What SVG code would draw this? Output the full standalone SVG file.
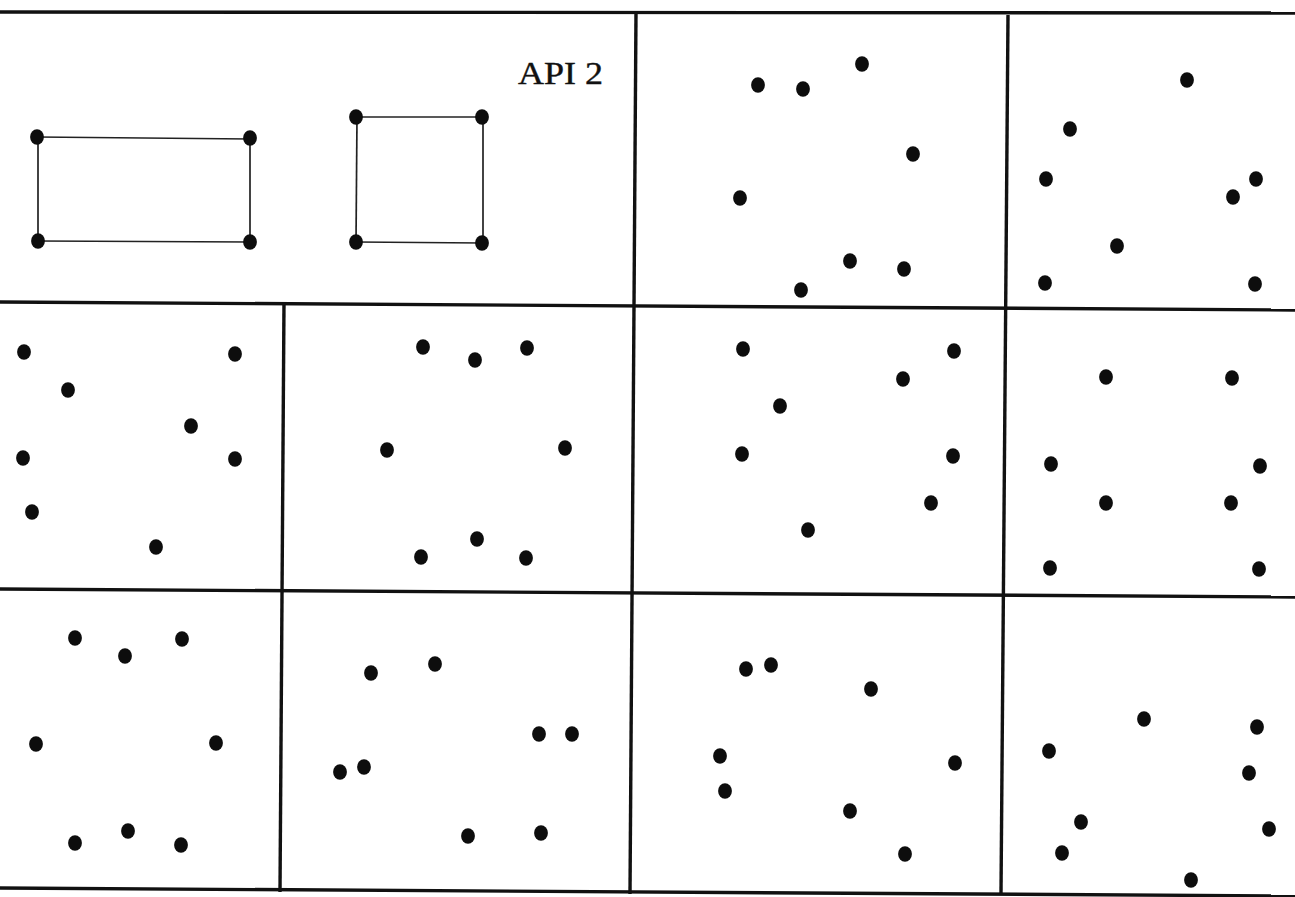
<svg xmlns="http://www.w3.org/2000/svg" width="1295" height="897" viewBox="0 0 1295 897">
<style>
.grid{stroke:#111;stroke-width:3.4;fill:none;stroke-linecap:butt}
.edge{stroke:#222;stroke-width:1.7;fill:none}
.dot{fill:#0d0d0d}
.lbl{font-family:"Liberation Serif","Times New Roman",serif;font-size:31px;fill:#111;stroke:#111;stroke-width:0.4}
</style>
<defs>
<ellipse id="d" cx="0" cy="0" rx="6.9" ry="7.7" class="dot"/>
</defs>
<rect width="1295" height="897" fill="#ffffff"/>
<g id="grid">
<line class="grid" x1="0" y1="12" x2="1295" y2="13"/>
<line class="grid" x1="0" y1="302" x2="1295" y2="310"/>
<line class="grid" x1="0" y1="589" x2="1295" y2="597"/>
<line class="grid" x1="0" y1="888" x2="1295" y2="896"/>
<line class="grid" x1="636" y1="12" x2="630" y2="894"/>
<line class="grid" x1="1008" y1="15" x2="1001" y2="894"/>
<line class="grid" x1="284" y1="302" x2="280" y2="892"/>
</g>
<g id="connectors">
<line class="edge" x1="37" y1="137" x2="250" y2="139"/>
<line class="edge" x1="38" y1="241" x2="250" y2="242"/>
<line class="edge" x1="38" y1="137" x2="38" y2="241"/>
<line class="edge" x1="250" y1="139" x2="250" y2="242"/>
<line class="edge" x1="356" y1="117" x2="482" y2="117"/>
<line class="edge" x1="356" y1="242" x2="482" y2="243"/>
<line class="edge" x1="357" y1="117" x2="356" y2="242"/>
<line class="edge" x1="483" y1="117" x2="483" y2="243"/>
</g>
<g id="panel-1">
<text class="lbl" x="518" y="84" textLength="85" lengthAdjust="spacingAndGlyphs">API 2</text>
<g id="rect-a">
<use href="#d" x="37" y="137"/><use href="#d" x="250" y="138"/><use href="#d" x="38" y="241"/><use href="#d" x="250" y="242"/>
</g>
<g id="rect-b">
<use href="#d" x="356" y="117"/><use href="#d" x="482" y="117"/><use href="#d" x="356" y="242"/><use href="#d" x="482" y="243"/>
</g>
</g>
<g id="panel-2">
<use href="#d" x="758" y="85"/><use href="#d" x="803" y="89"/><use href="#d" x="862" y="64"/><use href="#d" x="913" y="154"/>
<use href="#d" x="740" y="198"/><use href="#d" x="850" y="261"/><use href="#d" x="904" y="269"/><use href="#d" x="801" y="290"/>
</g>
<g id="panel-3">
<use href="#d" x="1187" y="80"/><use href="#d" x="1070" y="129"/><use href="#d" x="1046" y="179"/><use href="#d" x="1256" y="179"/>
<use href="#d" x="1233" y="197"/><use href="#d" x="1117" y="246"/><use href="#d" x="1045" y="283"/><use href="#d" x="1255" y="284"/>
</g>
<g id="panel-4">
<use href="#d" x="24" y="352"/><use href="#d" x="235" y="354"/><use href="#d" x="68" y="390"/><use href="#d" x="191" y="426"/>
<use href="#d" x="23" y="458"/><use href="#d" x="235" y="459"/><use href="#d" x="32" y="512"/><use href="#d" x="156" y="547"/>
</g>
<g id="panel-5">
<use href="#d" x="423" y="347"/><use href="#d" x="475" y="360"/><use href="#d" x="527" y="348"/><use href="#d" x="387" y="450"/>
<use href="#d" x="565" y="448"/><use href="#d" x="477" y="539"/><use href="#d" x="421" y="557"/><use href="#d" x="526" y="558"/>
</g>
<g id="panel-6">
<use href="#d" x="743" y="349"/><use href="#d" x="954" y="351"/><use href="#d" x="903" y="379"/><use href="#d" x="780" y="406"/>
<use href="#d" x="742" y="454"/><use href="#d" x="953" y="456"/><use href="#d" x="931" y="503"/><use href="#d" x="808" y="530"/>
</g>
<g id="panel-7">
<use href="#d" x="1106" y="377"/><use href="#d" x="1232" y="378"/><use href="#d" x="1051" y="464"/><use href="#d" x="1260" y="466"/>
<use href="#d" x="1106" y="503"/><use href="#d" x="1231" y="503"/><use href="#d" x="1050" y="568"/><use href="#d" x="1259" y="569"/>
</g>
<g id="panel-8">
<use href="#d" x="75" y="638"/><use href="#d" x="125" y="656"/><use href="#d" x="182" y="639"/><use href="#d" x="36" y="744"/>
<use href="#d" x="216" y="743"/><use href="#d" x="128" y="831"/><use href="#d" x="75" y="843"/><use href="#d" x="181" y="845"/>
</g>
<g id="panel-9">
<use href="#d" x="371" y="673"/><use href="#d" x="435" y="664"/><use href="#d" x="539" y="734"/><use href="#d" x="572" y="734"/>
<use href="#d" x="340" y="772"/><use href="#d" x="364" y="767"/><use href="#d" x="468" y="836"/><use href="#d" x="541" y="833"/>
</g>
<g id="panel-10">
<use href="#d" x="746" y="669"/><use href="#d" x="771" y="665"/><use href="#d" x="871" y="689"/><use href="#d" x="720" y="756"/>
<use href="#d" x="955" y="763"/><use href="#d" x="725" y="791"/><use href="#d" x="850" y="811"/><use href="#d" x="905" y="854"/>
</g>
<g id="panel-11">
<use href="#d" x="1144" y="719"/><use href="#d" x="1257" y="727"/><use href="#d" x="1049" y="751"/><use href="#d" x="1249" y="773"/>
<use href="#d" x="1081" y="822"/><use href="#d" x="1269" y="829"/><use href="#d" x="1062" y="853"/><use href="#d" x="1191" y="880"/>
</g>
</svg>
